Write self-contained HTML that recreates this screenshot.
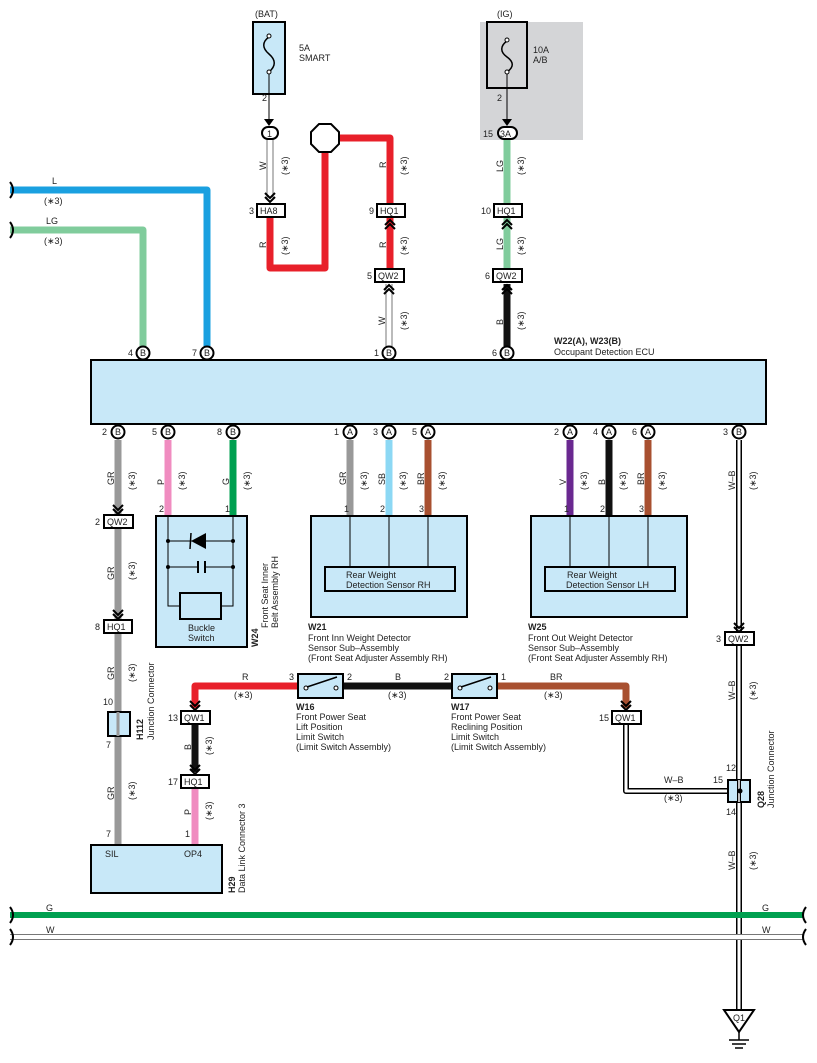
<!DOCTYPE html>
<html><head><meta charset="utf-8"><style>
body{margin:0;background:#fff}
svg{display:block;font-family:"Liberation Sans",sans-serif}
text{font-size:9px;fill:#222}
.s{font-size:8px}
</style></head><body>
<svg width="817" height="1063" viewBox="0 0 817 1063">
<defs>
<g id="dn"><path d="M-5,-4 L0,1 L5,-4 M-5,0 L0,5 L5,0" fill="none" stroke="#000" stroke-width="2"/></g>
<g id="up"><path d="M-5,4 L0,-1 L5,4 M-5,0 L0,-5 L5,0" fill="none" stroke="#000" stroke-width="2"/></g>
</defs>
<rect x="480" y="22" width="103" height="118" fill="#d4d5d7"/>
<rect x="253" y="22" width="32" height="72" fill="#c8e8f8" stroke="#000" stroke-width="2"/>
<path d="M269,37 c-7,5 -7,11 0,17 c7,6 7,12 0,18" fill="none" stroke="#000" stroke-width="1.5"/>
<circle cx="269" cy="36" r="2" fill="#fff" stroke="#000"/><circle cx="269" cy="72" r="2" fill="#fff" stroke="#000"/>
<text x="255" y="17">(BAT)</text><text x="299" y="51">5A</text><text x="299" y="61">SMART</text><text x="262" y="101">2</text>
<rect x="487" y="22" width="40" height="66" fill="#d4d5d7" stroke="#000" stroke-width="2"/>
<path d="M507,41 c-7,5 -7,11 0,16 c7,5 7,10 0,15" fill="none" stroke="#000" stroke-width="1.5"/>
<circle cx="507" cy="40" r="2" fill="#fff" stroke="#000"/><circle cx="507" cy="72" r="2" fill="#fff" stroke="#000"/>
<text x="497" y="17">(IG)</text><text x="533" y="53">10A</text><text x="533" y="63">A/B</text><text x="497" y="101">2</text>
<line x1="269" y1="74" x2="269" y2="122" stroke="#000"/><path d="M264,119 L269,126 L274,119Z" fill="#000"/>
<line x1="507" y1="74" x2="507" y2="122" stroke="#000"/><path d="M502,119 L507,126 L512,119Z" fill="#000"/>
<g fill="none" stroke-linejoin="round">
<path d="M10,190 H207 V346" stroke="#1aa0e0" stroke-width="7"/>
<path d="M10,230 H143 V346" stroke="#80cc9c" stroke-width="7"/>
<path d="M270,138 V200" stroke="#777" stroke-width="7"/><path d="M270,138 V200" stroke="#fff" stroke-width="5"/>
<path d="M270,218 V268 H325 V150" stroke="#e8202a" stroke-width="7"/>
<path d="M338,138 H390 V204" stroke="#e8202a" stroke-width="7"/>
<path d="M390,218 V270" stroke="#e8202a" stroke-width="7"/>
<path d="M389,284 V346" stroke="#777" stroke-width="7"/><path d="M389,284 V346" stroke="#fff" stroke-width="5"/>
<path d="M507,140 V204 M507,218 V270" stroke="#80cc9c" stroke-width="7"/>
<path d="M507,284 V346" stroke="#111" stroke-width="7"/>
<path d="M118,440 V845" stroke="#999" stroke-width="7"/>
<path d="M168,440 V516" stroke="#f08cc0" stroke-width="7"/>
<path d="M233,440 V516" stroke="#00a050" stroke-width="7"/>
<path d="M350,440 V516" stroke="#999" stroke-width="7"/>
<path d="M389,440 V516" stroke="#8cd8f4" stroke-width="7"/>
<path d="M428,440 V516" stroke="#a85030" stroke-width="7"/>
<path d="M570,440 V516" stroke="#6a2890" stroke-width="7"/>
<path d="M609,440 V516" stroke="#111" stroke-width="7"/>
<path d="M648,440 V516" stroke="#a85030" stroke-width="7"/>
<path d="M739,440 V1010" stroke="#000" stroke-width="6"/><path d="M739,440 V1010" stroke="#fff" stroke-width="3"/>
<path d="M195,708 V686 H298" stroke="#e8202a" stroke-width="7"/>
<path d="M343,686 H452" stroke="#111" stroke-width="7"/>
<path d="M497,686 H626 V708" stroke="#a85030" stroke-width="7"/>
<path d="M195,724 V772" stroke="#111" stroke-width="7"/>
<path d="M195,788 V845" stroke="#f08cc0" stroke-width="7"/>
<path d="M626,724 V791 H728" stroke="#000" stroke-width="6"/><path d="M626,724 V791 H728" stroke="#fff" stroke-width="3"/>
<path d="M10,915 H803" stroke="#00a050" stroke-width="6"/>
<path d="M10,937 H803" stroke="#777" stroke-width="6"/><path d="M10,937 H803" stroke="#fff" stroke-width="4"/>
</g>
<path d="M10,182 q6,8 0,16 M10,222 q6,8 0,16 M10,907 q6,8 0,16 M10,929 q6,8 0,16 M806,907 q-6,8 0,16 M806,929 q-6,8 0,16" fill="none" stroke="#000" stroke-width="2"/>
<polygon points="319,124 331,124 339,132 339,144 331,152 319,152 311,144 311,132" fill="#fff" stroke="#000" stroke-width="2"/>
<rect x="262" y="127" width="16" height="12" rx="6" fill="#fff" stroke="#000" stroke-width="2"/><text x="267" y="137">1</text>
<rect x="498" y="127" width="19" height="12" rx="6" fill="#fff" stroke="#000" stroke-width="2"/><text x="500" y="137">3A</text><text x="483" y="137">15</text>
<use href="#dn" x="270" y="197"/><use href="#up" x="390" y="225"/><use href="#up" x="507" y="225"/>
<use href="#up" x="389" y="290"/><use href="#up" x="507" y="290"/>
<g fill="#fff" stroke="#000" stroke-width="2">
<rect x="257" y="204" width="28" height="13"/><rect x="377" y="204" width="28" height="13"/><rect x="494" y="204" width="28" height="13"/>
<rect x="375" y="269" width="29" height="13"/><rect x="493" y="269" width="29" height="13"/>
</g>
<text x="260" y="214">HA8</text><text x="249" y="214">3</text>
<text x="380" y="214">HQ1</text><text x="369" y="214">9</text>
<text x="497" y="214">HQ1</text><text x="481" y="214">10</text>
<text x="378" y="279">QW2</text><text x="367" y="279">5</text>
<text x="496" y="279">QW2</text><text x="485" y="279">6</text>
<g class="s">
<text x="52" y="184">L</text><text x="46" y="224">LG</text>
<text x="44" y="204">(∗3)</text><text x="44" y="244">(∗3)</text>
</g>
<g font-size="8">
<text transform="translate(266,170) rotate(-90)">W</text><text transform="translate(288,175) rotate(-90)">(∗3)</text>
<text transform="translate(266,248) rotate(-90)">R</text><text transform="translate(288,255) rotate(-90)">(∗3)</text>
<text transform="translate(386,168) rotate(-90)">R</text><text transform="translate(407,175) rotate(-90)">(∗3)</text>
<text transform="translate(386,248) rotate(-90)">R</text><text transform="translate(407,255) rotate(-90)">(∗3)</text>
<text transform="translate(385,325) rotate(-90)">W</text><text transform="translate(407,330) rotate(-90)">(∗3)</text>
<text transform="translate(503,172) rotate(-90)">LG</text><text transform="translate(524,175) rotate(-90)">(∗3)</text>
<text transform="translate(503,250) rotate(-90)">LG</text><text transform="translate(524,255) rotate(-90)">(∗3)</text>
<text transform="translate(503,325) rotate(-90)">B</text><text transform="translate(524,330) rotate(-90)">(∗3)</text>
<text transform="translate(114,485) rotate(-90)">GR</text><text transform="translate(135,490) rotate(-90)">(∗3)</text>
<text transform="translate(164,485) rotate(-90)">P</text><text transform="translate(185,490) rotate(-90)">(∗3)</text>
<text transform="translate(229,485) rotate(-90)">G</text><text transform="translate(250,490) rotate(-90)">(∗3)</text>
<text transform="translate(346,485) rotate(-90)">GR</text><text transform="translate(367,490) rotate(-90)">(∗3)</text>
<text transform="translate(385,485) rotate(-90)">SB</text><text transform="translate(406,490) rotate(-90)">(∗3)</text>
<text transform="translate(424,485) rotate(-90)">BR</text><text transform="translate(445,490) rotate(-90)">(∗3)</text>
<text transform="translate(566,485) rotate(-90)">V</text><text transform="translate(587,490) rotate(-90)">(∗3)</text>
<text transform="translate(605,485) rotate(-90)">B</text><text transform="translate(626,490) rotate(-90)">(∗3)</text>
<text transform="translate(644,485) rotate(-90)">BR</text><text transform="translate(665,490) rotate(-90)">(∗3)</text>
<text transform="translate(735,490) rotate(-90)">W–B</text><text transform="translate(756,490) rotate(-90)">(∗3)</text>
<text transform="translate(114,580) rotate(-90)">GR</text><text transform="translate(135,580) rotate(-90)">(∗3)</text>
<text transform="translate(114,680) rotate(-90)">GR</text><text transform="translate(135,682) rotate(-90)">(∗3)</text>
<text transform="translate(114,800) rotate(-90)">GR</text><text transform="translate(135,800) rotate(-90)">(∗3)</text>
<text transform="translate(191,750) rotate(-90)">B</text><text transform="translate(212,755) rotate(-90)">(∗3)</text>
<text transform="translate(191,815) rotate(-90)">P</text><text transform="translate(212,820) rotate(-90)">(∗3)</text>
<text transform="translate(735,700) rotate(-90)">W–B</text><text transform="translate(756,700) rotate(-90)">(∗3)</text>
<text transform="translate(735,870) rotate(-90)">W–B</text><text transform="translate(756,870) rotate(-90)">(∗3)</text>
</g>
<rect x="91" y="360" width="675" height="64" fill="#c8e8f8" stroke="#000" stroke-width="2"/>
<text x="554" y="344" font-weight="bold">W22(A), W23(B)</text><text x="554" y="355">Occupant Detection ECU</text>
<g fill="#fff" stroke="#000" stroke-width="2">
<circle cx="143" cy="353" r="6.5"/><circle cx="207" cy="353" r="6.5"/><circle cx="389" cy="353" r="6.5"/><circle cx="507" cy="353" r="6.5"/>
<circle cx="118" cy="432" r="6.5"/><circle cx="168" cy="432" r="6.5"/><circle cx="233" cy="432" r="6.5"/>
<circle cx="350" cy="432" r="6.5"/><circle cx="389" cy="432" r="6.5"/><circle cx="428" cy="432" r="6.5"/>
<circle cx="570" cy="432" r="6.5"/><circle cx="609" cy="432" r="6.5"/><circle cx="648" cy="432" r="6.5"/><circle cx="739" cy="432" r="6.5"/>
</g>
<g font-size="8">
<text x="140" y="356">B</text><text x="128" y="356">4</text>
<text x="204" y="356">B</text><text x="192" y="356">7</text>
<text x="386" y="356">B</text><text x="374" y="356">1</text>
<text x="504" y="356">B</text><text x="492" y="356">6</text>
<text x="115" y="435">B</text><text x="102" y="435">2</text>
<text x="165" y="435">B</text><text x="152" y="435">5</text>
<text x="230" y="435">B</text><text x="217" y="435">8</text>
<text x="347" y="435">A</text><text x="334" y="435">1</text>
<text x="386" y="435">A</text><text x="373" y="435">3</text>
<text x="425" y="435">A</text><text x="412" y="435">5</text>
<text x="567" y="435">A</text><text x="554" y="435">2</text>
<text x="606" y="435">A</text><text x="593" y="435">4</text>
<text x="645" y="435">A</text><text x="632" y="435">6</text>
<text x="736" y="435">B</text><text x="723" y="435">3</text>
</g>
<use href="#dn" x="118" y="509"/><use href="#dn" x="118" y="614"/><use href="#dn" x="739" y="627"/>
<use href="#dn" x="195" y="705"/><use href="#dn" x="626" y="705"/><use href="#dn" x="195" y="769"/>
<g fill="#fff" stroke="#000" stroke-width="2">
<rect x="104" y="515" width="29" height="13"/><rect x="104" y="620" width="28" height="13"/>
<rect x="725" y="632" width="29" height="13"/><rect x="181" y="711" width="29" height="13"/>
<rect x="612" y="711" width="29" height="13"/><rect x="181" y="775" width="28" height="13"/>
</g>
<text x="107" y="525">QW2</text><text x="95" y="525">2</text>
<text x="107" y="630">HQ1</text><text x="95" y="630">8</text>
<text x="728" y="642">QW2</text><text x="716" y="642">3</text>
<text x="184" y="721">QW1</text><text x="168" y="721">13</text>
<text x="615" y="721">QW1</text><text x="599" y="721">15</text>
<text x="184" y="785">HQ1</text><text x="168" y="785">17</text>
<rect x="108" y="712" width="22" height="24" fill="#c8e8f8" stroke="#000" stroke-width="2"/>
<line x1="118" y1="712" x2="118" y2="736" stroke="#999" stroke-width="3"/>
<text x="103" y="705">10</text><text x="106" y="748">7</text>
<text transform="translate(143,740) rotate(-90)" font-weight="bold">H112</text>
<text transform="translate(154,740) rotate(-90)">Junction Connector</text>
<rect x="91" y="845" width="131" height="48" fill="#c8e8f8" stroke="#000" stroke-width="2"/>
<text x="105" y="857">SIL</text><text x="184" y="857">OP4</text><text x="106" y="837">7</text><text x="185" y="837">1</text>
<text transform="translate(235,893) rotate(-90)" font-weight="bold">H29</text>
<text transform="translate(245,893) rotate(-90)">Data Link Connector 3</text>
<rect x="156" y="516" width="91" height="131" fill="#c8e8f8" stroke="#000" stroke-width="2"/>
<text x="159" y="512">2</text><text x="225" y="512">1</text>
<g stroke="#000" fill="none">
<path d="M168,516 V606 H180 M233,516 V606 H221 M168,541 H233 M168,567 H198 M205,567 H233"/>
<path d="M198,561 V573 M205,561 V573" stroke-width="2"/>
<rect x="180" y="593" width="41" height="26" stroke-width="2"/>
</g>
<path d="M191,541 L206,533 V549Z" fill="#000"/><path d="M190,549 L191,533" stroke="#000" stroke-width="1.5"/>
<g fill="#000"><circle cx="168" cy="541" r="2"/><circle cx="233" cy="541" r="2"/><circle cx="168" cy="567" r="2"/><circle cx="233" cy="567" r="2"/></g>
<text x="188" y="631">Buckle</text><text x="188" y="641">Switch</text>
<text transform="translate(258,647) rotate(-90)" font-weight="bold">W24</text>
<text transform="translate(268,628) rotate(-90)">Front Seat Inner</text>
<text transform="translate(278,628) rotate(-90)">Belt Assembly RH</text>
<g stroke="#000" stroke-width="2" fill="#c8e8f8">
<rect x="311" y="516" width="156" height="101"/><rect x="325" y="567" width="130" height="24"/>
<rect x="531" y="516" width="156" height="101"/><rect x="545" y="567" width="130" height="24"/>
</g>
<path d="M350,516 V567 M389,516 V567 M428,516 V567 M570,516 V567 M609,516 V567 M648,516 V567" stroke="#000"/>
<text x="344" y="512">1</text><text x="380" y="512">2</text><text x="419" y="512">3</text>
<text x="564" y="512">1</text><text x="600" y="512">2</text><text x="639" y="512">3</text>
<text x="346" y="578">Rear Weight</text><text x="346" y="588">Detection Sensor RH</text>
<text x="567" y="578">Rear Weight</text><text x="566" y="588">Detection Sensor LH</text>
<text x="308" y="630" font-weight="bold">W21</text>
<text x="308" y="641">Front Inn Weight Detector</text><text x="308" y="651">Sensor Sub–Assembly</text><text x="308" y="661">(Front Seat Adjuster Assembly RH)</text>
<text x="528" y="630" font-weight="bold">W25</text>
<text x="528" y="641">Front Out Weight Detector</text><text x="528" y="651">Sensor Sub–Assembly</text><text x="528" y="661">(Front Seat Adjuster Assembly RH)</text>
<g stroke="#000" stroke-width="2" fill="#c8e8f8"><rect x="298" y="674" width="45" height="24"/><rect x="452" y="674" width="45" height="24"/></g>
<g stroke="#000" fill="#fff"><circle cx="306" cy="688" r="2"/><circle cx="336" cy="688" r="2"/><circle cx="460" cy="688" r="2"/><circle cx="490" cy="688" r="2"/>
<path d="M307,687 L337,677 M461,687 L491,677" stroke-width="1.5"/></g>
<text x="289" y="680">3</text><text x="347" y="680">2</text><text x="444" y="680">2</text><text x="501" y="680">1</text>
<text x="242" y="680">R</text><text x="395" y="680">B</text><text x="550" y="680">BR</text>
<text x="234" y="698">(∗3)</text><text x="388" y="698">(∗3)</text><text x="544" y="698">(∗3)</text>
<text x="296" y="710" font-weight="bold">W16</text>
<text x="296" y="720">Front Power Seat</text><text x="296" y="730">Lift Position</text><text x="296" y="740">Limit Switch</text><text x="296" y="750">(Limit Switch Assembly)</text>
<text x="451" y="710" font-weight="bold">W17</text>
<text x="451" y="720">Front Power Seat</text><text x="451" y="730">Reclining Position</text><text x="451" y="740">Limit Switch</text><text x="451" y="750">(Limit Switch Assembly)</text>
<text x="664" y="783">W–B</text><text x="664" y="801">(∗3)</text>
<rect x="728" y="780" width="22" height="22" fill="#c8e8f8" stroke="#000" stroke-width="2"/>
<path d="M739,780 V802" stroke="#000" stroke-width="4"/><path d="M739,780 V802" stroke="#fff" stroke-width="1.5"/>
<circle cx="740" cy="791" r="2.5" fill="#000"/>
<text x="726" y="771">12</text><text x="713" y="783">15</text><text x="726" y="815">14</text>
<text transform="translate(764,808) rotate(-90)" font-weight="bold">Q28</text>
<text transform="translate(774,808) rotate(-90)">Junction Connector</text>
<text x="46" y="911">G</text><text x="46" y="933">W</text><text x="762" y="911">G</text><text x="762" y="933">W</text>
<polygon points="724,1010 754,1010 739,1032" fill="#fff" stroke="#000" stroke-width="2"/>
<text x="733" y="1021" font-size="8">Q1</text>
<path d="M739,1032 V1040 M729,1040 H749 M732,1044 H746 M735,1048 H743" stroke="#000" stroke-width="1.5"/>
</svg>
</body></html>
